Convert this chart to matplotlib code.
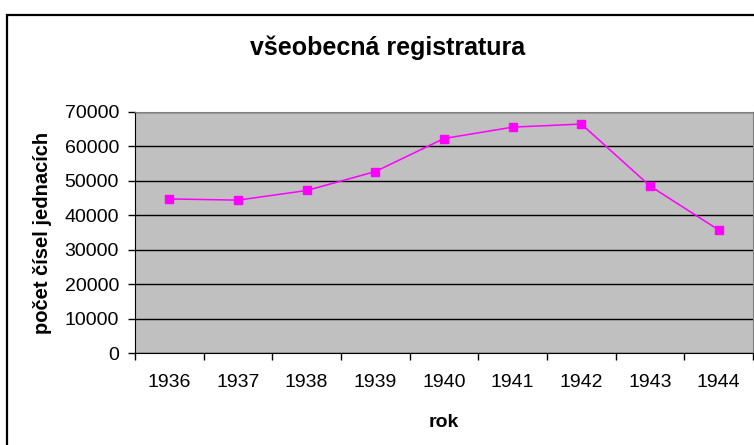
import matplotlib
matplotlib.use("Agg")
import matplotlib.pyplot as plt
from matplotlib.patches import Rectangle

plt.rcParams['font.family'] = ['Liberation Sans', 'DejaVu Sans']

# data
roky = ['1936', '1937', '1938', '1939', '1940', '1941', '1942', '1943', '1944']
pocet = [44750, 44400, 47200, 52700, 62300, 65600, 66500, 48500, 35750]
y_ticks = [0, 10000, 20000, 30000, 40000, 50000, 60000, 70000]

W, H = 754, 445
fig = plt.figure(figsize=(W / 100, H / 100), dpi=100)

# chart border (Excel style)
fig.patches.append(Rectangle((7 / W, -0.05), 1.0, (H - 15) / H + 0.05,
                             transform=fig.transFigure, fill=False,
                             edgecolor='black', linewidth=1.6))

ax = fig.add_axes([135 / W, (H - 353) / H, 618 / W, 241 / H])
ax.set_facecolor('#c0c0c0')

x = list(range(len(roky)))
ax.plot(x, pocet, color='#ff00ff', linewidth=1.1, marker='s',
        markersize=6, markerfacecolor='#ff00ff', markeredgecolor='#ff00ff',
        zorder=3)

ax.set_xlim(-0.5, len(roky) - 0.5)
ax.set_ylim(0, 70000)
ax.set_yticks(y_ticks)
ax.set_yticklabels([str(v) for v in y_ticks], fontsize=14)
ax.grid(axis='y', color='black', linewidth=1)
ax.set_axisbelow(True)

# category axis: ticks between categories, labels in middle
ax.set_xticks([i - 0.5 for i in range(len(roky) + 1)])
ax.set_xticklabels([])
ax.set_xticks(x, minor=True)
ax.set_xticklabels(roky, minor=True, fontsize=14)
ax.tick_params(axis='x', which='major', direction='out', length=5, width=1)
ax.tick_params(axis='x', which='minor', length=0, pad=15)
ax.tick_params(axis='y', direction='out', length=5, width=1, pad=6.5)

for s in ['top', 'right']:
    ax.spines[s].set_color('#808080')
for s in ['left', 'bottom']:
    ax.spines[s].set_color('black')

ax.set_xlabel('rok', fontsize=14, fontweight='bold', labelpad=17)
ax.set_ylabel('počet čísel jednacích', fontsize=14.5, fontweight='bold',
              labelpad=9)
fig.text(388 / W, 1 - 48 / H, 'všeobecná registratura', fontsize=18,
         fontweight='bold', ha='center', va='center')

fig.savefig('out.png', dpi=100)
